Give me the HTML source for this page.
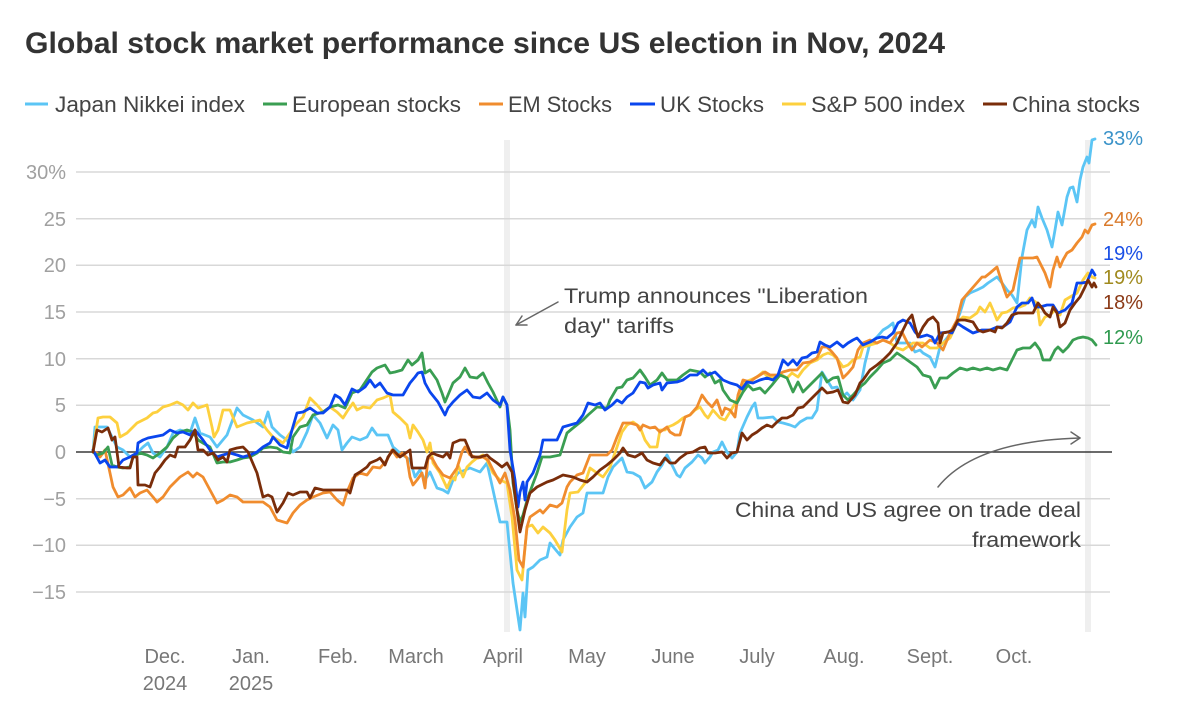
<!DOCTYPE html>
<html>
<head>
<meta charset="utf-8">
<style>
  html, body { margin: 0; padding: 0; background: #ffffff; }
  svg { display: block; }
  text { font-family: "Liberation Sans", "DejaVu Sans", sans-serif; }
</style>
</head>
<body>
<svg width="1196" height="709" viewBox="0 0 1196 709" xmlns="http://www.w3.org/2000/svg">
  <rect x="0" y="0" width="1196" height="709" fill="#ffffff"/>

  <!-- Title -->
  <text x="25" y="53" font-size="30" font-weight="bold" fill="#333333" textLength="920" lengthAdjust="spacingAndGlyphs">Global stock market performance since US election in Nov, 2024</text>

  <!-- Legend -->
  <g font-size="22" fill="#444444">
    <line x1="25" y1="104" x2="48" y2="104" stroke="#5bc5f5" stroke-width="3"/>
    <text x="55" y="112" textLength="190" lengthAdjust="spacingAndGlyphs">Japan Nikkei index</text>
    <line x1="263" y1="104" x2="287" y2="104" stroke="#3a9e52" stroke-width="3"/>
    <text x="292" y="112" textLength="169" lengthAdjust="spacingAndGlyphs">European stocks</text>
    <line x1="479" y1="104" x2="503" y2="104" stroke="#f08c2e" stroke-width="3"/>
    <text x="508" y="112" textLength="104" lengthAdjust="spacingAndGlyphs">EM Stocks</text>
    <line x1="630" y1="104" x2="655" y2="104" stroke="#0a46ee" stroke-width="3"/>
    <text x="660" y="112" textLength="104" lengthAdjust="spacingAndGlyphs">UK Stocks</text>
    <line x1="782" y1="104" x2="806" y2="104" stroke="#fdd03e" stroke-width="3"/>
    <text x="811" y="112" textLength="154" lengthAdjust="spacingAndGlyphs">S&amp;P 500 index</text>
    <line x1="983" y1="104" x2="1007" y2="104" stroke="#7a2d0a" stroke-width="3"/>
    <text x="1012" y="112" textLength="128" lengthAdjust="spacingAndGlyphs">China stocks</text>
  </g>

  <!-- Shaded event bands -->
  <rect x="504" y="140" width="6" height="492" fill="#efefef"/>
  <rect x="1085" y="140" width="6" height="492" fill="#efefef"/>

  <!-- Gridlines -->
  <g stroke="#d8d8d8" stroke-width="1.5">
    <line x1="76" y1="172" x2="1110" y2="172"/>
    <line x1="76" y1="218.7" x2="1110" y2="218.7"/>
    <line x1="76" y1="265.3" x2="1110" y2="265.3"/>
    <line x1="76" y1="312" x2="1110" y2="312"/>
    <line x1="76" y1="358.7" x2="1110" y2="358.7"/>
    <line x1="76" y1="405.3" x2="1110" y2="405.3"/>
    <line x1="76" y1="498.7" x2="1110" y2="498.7"/>
    <line x1="76" y1="545.3" x2="1110" y2="545.3"/>
    <line x1="76" y1="592" x2="1110" y2="592"/>
  </g>
  <line x1="76" y1="452" x2="1112" y2="452" stroke="#3a3a3a" stroke-width="1.5"/>

  <!-- Y axis labels -->
  <g font-size="20" fill="#a0a0a0" text-anchor="end">
    <text x="66" y="179">30%</text>
    <text x="66" y="226">25</text>
    <text x="66" y="272">20</text>
    <text x="66" y="319">15</text>
    <text x="66" y="366">10</text>
    <text x="66" y="412">5</text>
    <text x="66" y="459">0</text>
    <text x="66" y="506">−5</text>
    <text x="66" y="552">−10</text>
    <text x="66" y="599">−15</text>
  </g>

  <!-- X axis labels -->
  <g font-size="20" fill="#777777" text-anchor="middle">
    <text x="165" y="663">Dec.</text>
    <text x="165" y="690">2024</text>
    <text x="251" y="663">Jan.</text>
    <text x="251" y="690">2025</text>
    <text x="338" y="663">Feb.</text>
    <text x="416" y="663">March</text>
    <text x="503" y="663">April</text>
    <text x="587" y="663">May</text>
    <text x="673" y="663">June</text>
    <text x="757" y="663">July</text>
    <text x="844" y="663">Aug.</text>
    <text x="930" y="663">Sept.</text>
    <text x="1014" y="663">Oct.</text>
  </g>

  <!-- Series -->
  <g fill="none" stroke-width="2.8" stroke-linejoin="round" stroke-linecap="round">
    <!-- Nikkei -->
    <polyline stroke="#5bc5f5" points="93,452 95,427 107,427 112,437 117,447 123,450 130,457 137,453 143,447 148,443 153,453 160,457 167,447 173,433 180,430 190,433 195,418 200,433 210,437 217,447 227,435 237,408 243,415 253,420 263,427 268,412 272,427 280,435 287,440 293,452 300,447 307,432 313,415 320,423 327,438 333,425 338,430 342,450 347,443 352,437 360,440 367,437 372,428 377,435 388,435 393,447 400,453 410,460 415,477 420,470 425,480 430,472 437,488 443,490 448,493 453,480 458,473 470,468 480,472 487,463 493,490 500,522 507,522 513,583 520,630 523,593 525,617 528,570 533,567 540,560 547,557 550,543 560,555 563,540 570,527 577,517 583,513 587,493 603,493 608,477 613,467 617,463 622,458 627,472 633,473 640,477 645,488 652,482 657,472 662,465 667,455 672,465 677,475 680,477 685,468 692,462 698,455 702,458 705,463 710,457 713,452 718,450 722,442 727,452 732,458 737,452 740,433 747,417 752,407 755,403 758,418 763,418 773,417 778,422 783,423 790,425 795,427 800,422 807,418 812,418 817,410 822,372 827,380 832,388 837,387 842,397 847,393 853,400 860,390 865,363 870,343 877,337 883,330 888,327 893,323 897,343 910,343 915,352 920,350 923,353 930,357 935,367 940,347 947,338 953,330 960,313 965,297 970,293 977,290 983,287 988,283 997,277 1002,283 1007,290 1012,295 1017,303 1022,257 1027,230 1032,220 1035,227 1038,207 1042,218 1047,230 1052,247 1055,230 1058,212 1062,225 1067,197 1070,188 1073,187 1077,202 1080,180 1083,167 1087,157 1089,163 1092,140 1095,139"/>
    <!-- S&P 500 -->
    <polyline stroke="#fdd03e" points="93,452 98,418 103,417 110,417 117,423 120,437 127,433 137,423 147,418 153,413 157,412 163,407 170,405 177,402 183,405 188,410 193,403 198,408 207,405 212,427 214,437 218,430 223,410 230,410 237,427 247,423 260,420 267,430 273,437 283,443 290,433 297,423 303,417 310,398 317,405 323,412 330,407 337,412 343,418 348,410 353,403 357,410 363,407 370,408 377,400 383,398 390,395 393,412 400,418 407,425 410,438 413,425 418,432 423,440 427,452 430,443 433,463 440,473 447,488 452,477 455,480 458,465 463,477 467,467 472,462 477,458 483,455 487,460 493,473 500,480 507,483 512,517 517,570 522,580 527,527 532,525 538,533 543,527 550,533 555,540 562,552 567,510 570,493 578,492 585,483 590,468 597,473 603,477 610,467 617,447 622,432 627,425 633,422 640,427 645,440 650,447 657,447 660,430 665,430 668,427 673,425 678,422 683,418 690,415 695,410 700,407 705,415 708,418 713,410 720,418 725,420 730,412 737,400 743,383 750,380 757,377 763,372 768,377 775,378 782,375 787,378 792,373 798,377 803,370 810,363 817,360 823,355 828,353 833,355 838,360 843,367 848,365 853,360 860,357 863,347 870,345 877,343 883,340 890,343 897,348 903,350 913,343 923,343 930,348 937,348 943,343 950,338 957,323 963,317 970,318 977,313 980,307 985,312 990,303 993,310 997,320 1002,313 1007,312 1013,308 1020,307 1025,305 1030,298 1037,303 1040,325 1045,317 1050,315 1055,310 1060,315 1065,300 1070,297 1077,293 1083,280 1088,273 1092,277 1095,278"/>
    <!-- EM -->
    <polyline stroke="#f08c2e" points="93,452 97,453 100,457 105,450 110,473 113,487 118,497 123,495 130,488 135,497 140,493 147,490 153,497 157,502 163,497 170,487 180,477 188,472 193,477 197,473 203,477 210,490 217,503 223,500 230,495 237,497 243,502 250,502 263,502 270,507 277,520 287,523 293,513 300,505 307,500 313,497 323,493 330,492 337,500 343,505 347,492 353,478 360,473 367,475 373,467 380,468 387,460 392,450 397,457 402,453 407,458 410,477 413,485 417,480 422,473 425,488 428,458 432,458 437,467 443,475 450,478 457,468 462,452 465,447 470,455 478,458 483,457 488,460 493,470 500,483 505,473 510,490 515,520 519,560 523,567 527,527 530,517 540,510 543,513 550,505 557,507 562,503 567,487 570,482 577,475 583,473 590,455 597,455 607,455 612,450 617,437 623,423 630,423 637,425 640,430 643,425 650,428 655,427 660,432 667,427 670,432 675,435 680,435 685,417 690,415 697,407 702,395 707,402 712,407 717,400 722,415 725,408 730,410 735,417 738,395 743,380 750,382 755,378 760,375 765,372 770,375 777,375 783,372 790,370 797,370 803,363 810,362 817,358 822,347 827,347 832,352 837,358 843,378 848,373 853,367 858,350 863,343 870,340 877,343 883,340 890,343 897,333 902,332 907,342 912,350 917,343 922,347 930,340 937,343 943,350 950,333 957,320 962,300 968,293 975,285 982,277 985,277 990,273 997,267 1002,283 1007,297 1013,290 1020,258 1027,258 1033,258 1037,257 1040,263 1045,273 1050,287 1053,270 1057,257 1060,267 1063,260 1067,253 1072,250 1077,243 1082,237 1085,230 1088,233 1092,225 1095,224"/>
    <!-- European -->
    <polyline stroke="#3a9e52" points="93,452 97,455 103,453 108,447 112,465 117,467 123,468 130,467 133,457 140,453 147,455 153,458 160,453 167,447 173,438 180,432 187,430 193,432 198,440 203,443 210,447 217,463 223,462 230,462 237,460 243,458 250,457 257,453 263,448 270,447 277,448 283,452 290,453 293,437 300,427 307,425 313,415 323,412 330,407 338,405 345,408 352,393 360,390 368,378 372,372 377,368 385,365 390,373 395,372 402,370 408,360 412,365 418,360 422,353 425,373 430,370 437,380 442,393 445,402 448,395 453,383 460,377 465,368 470,377 477,378 483,373 488,383 493,392 500,407 503,397 507,405 510,430 513,483 517,510 520,522 523,515 528,497 537,473 542,457 550,457 560,455 567,433 573,428 583,420 588,415 597,407 607,408 610,400 617,388 622,387 627,380 633,378 640,370 645,377 650,385 657,380 662,373 667,380 677,380 683,375 690,370 700,372 705,377 710,373 715,383 720,380 723,390 730,400 737,403 743,392 748,385 753,390 760,388 765,393 772,385 780,375 787,378 793,392 798,382 803,392 810,385 817,378 822,373 827,382 833,378 838,377 843,395 848,400 853,395 860,387 865,383 870,377 877,370 883,363 890,360 897,353 903,357 910,362 917,367 923,375 930,377 935,388 940,378 947,378 953,373 960,368 967,370 973,368 980,370 987,368 993,370 1000,368 1007,370 1012,360 1017,350 1023,348 1030,348 1035,343 1040,350 1043,360 1050,360 1055,350 1058,347 1063,352 1068,347 1073,340 1078,338 1083,337 1088,338 1092,340 1096,345"/>
    <!-- UK -->
    <polyline stroke="#0a46ee" points="93,450 100,463 105,460 110,467 117,467 123,460 130,457 137,453 138,443 143,440 148,438 153,437 163,435 170,430 177,433 183,432 190,435 195,430 203,440 210,450 217,457 223,455 230,453 237,455 243,457 250,455 257,452 263,447 270,443 273,437 280,445 287,448 292,430 297,413 303,412 310,408 317,413 323,413 330,407 335,395 340,398 345,405 352,389 358,392 365,387 370,380 375,387 380,383 387,393 393,395 403,395 410,383 415,377 418,373 422,372 425,383 430,392 438,402 445,415 448,408 453,402 460,395 467,390 473,397 480,398 487,393 493,400 500,405 503,397 507,405 510,450 515,480 518,507 520,492 523,482 525,500 527,482 533,473 540,455 543,440 550,440 557,440 563,427 570,425 577,423 583,415 588,403 595,405 600,403 605,410 612,405 617,400 622,403 627,397 633,393 640,382 645,383 648,388 653,385 660,383 662,390 667,383 677,382 683,380 690,375 697,375 703,370 708,375 715,372 720,377 723,380 730,383 737,385 742,389 747,382 753,383 760,380 767,378 773,380 778,375 783,360 788,365 793,360 797,365 802,358 807,357 812,353 817,352 820,342 825,345 830,347 837,342 843,347 848,343 853,340 857,338 863,345 870,342 877,338 882,337 887,338 893,333 898,323 903,320 910,323 915,332 920,337 927,335 932,337 935,343 940,333 948,332 952,333 957,323 963,327 968,330 973,333 982,330 990,330 997,327 1003,327 1010,322 1017,307 1022,303 1028,303 1032,298 1035,307 1040,307 1047,305 1053,305 1058,313 1065,310 1072,303 1077,283 1082,283 1087,282 1092,270 1095,275"/>
    <!-- China -->
    <polyline stroke="#7a2d0a" points="93,452 97,430 102,432 108,428 112,440 115,437 119,467 127,468 130,468 133,457 137,457 138,485 145,485 150,487 155,473 160,467 165,460 170,455 175,457 178,447 185,447 190,440 195,430 198,450 203,450 208,455 213,453 218,460 223,457 227,462 230,450 237,448 243,447 248,452 257,473 263,497 268,495 272,497 277,512 283,503 288,493 293,495 300,492 307,492 310,498 315,488 323,490 333,490 347,490 350,493 355,475 360,472 367,467 370,463 377,460 380,458 385,465 388,457 393,450 400,457 403,455 410,450 412,468 420,468 425,468 428,457 432,453 437,455 443,457 447,453 450,458 453,443 460,440 465,440 468,447 472,457 480,457 487,455 490,458 497,463 502,467 507,463 512,472 517,510 520,532 525,510 530,493 537,487 547,482 553,480 563,475 573,477 580,480 587,482 593,477 600,470 607,465 613,460 620,453 623,448 628,455 635,457 642,453 647,460 653,463 660,465 665,458 670,463 675,463 680,458 687,453 693,452 700,448 705,447 708,453 715,453 722,452 727,458 732,453 737,452 742,433 747,440 752,435 757,432 762,428 767,425 772,427 777,422 782,418 787,418 793,415 798,408 803,407 810,400 817,393 822,388 827,393 833,392 838,390 843,402 848,403 855,395 860,383 863,380 870,370 877,365 883,360 890,353 897,343 903,330 908,320 912,315 915,327 918,337 923,327 928,320 933,317 938,323 940,343 943,333 948,332 953,330 958,320 965,320 973,322 978,330 983,332 990,330 995,332 997,327 1002,328 1007,323 1012,315 1018,313 1027,313 1033,313 1038,303 1042,308 1045,313 1050,317 1053,307 1057,313 1060,327 1065,323 1070,310 1075,303 1080,297 1085,287 1088,280 1092,287 1094,283 1096,287"/>
  </g>

  <!-- End labels -->
  <g font-size="20">
    <text x="1103" y="145" fill="#3b93c9">33%</text>
    <text x="1103" y="226" fill="#d97a2b">24%</text>
    <text x="1103" y="260" fill="#1a4fe6">19%</text>
    <text x="1103" y="284" fill="#a08a1e">19%</text>
    <text x="1103" y="309" fill="#8b3a17">18%</text>
    <text x="1103" y="344" fill="#2f9a4f">12%</text>
  </g>

  <!-- Annotation 1 -->
  <g stroke="#666666" stroke-width="1.5" fill="none" stroke-linecap="round" stroke-linejoin="round">
    <path d="M558 302 L516 325"/>
    <path d="M522 316 L516 325 L527 325"/>
  </g>
  <g font-size="21" fill="#444444">
    <text x="564" y="303" textLength="304" lengthAdjust="spacingAndGlyphs">Trump announces "Liberation</text>
    <text x="564" y="333" textLength="110" lengthAdjust="spacingAndGlyphs">day" tariffs</text>
  </g>

  <!-- Annotation 2 -->
  <g stroke="#666666" stroke-width="1.5" fill="none" stroke-linecap="round" stroke-linejoin="round">
    <path d="M938 487 Q975 441 1080 438"/>
    <path d="M1071 432 L1080 438 L1071 444"/>
  </g>
  <g font-size="21" fill="#444444" text-anchor="end">
    <text x="1081" y="517" textLength="346" lengthAdjust="spacingAndGlyphs">China and US agree on trade deal</text>
    <text x="1081" y="547" textLength="109" lengthAdjust="spacingAndGlyphs">framework</text>
  </g>
</svg>
</body>
</html>
